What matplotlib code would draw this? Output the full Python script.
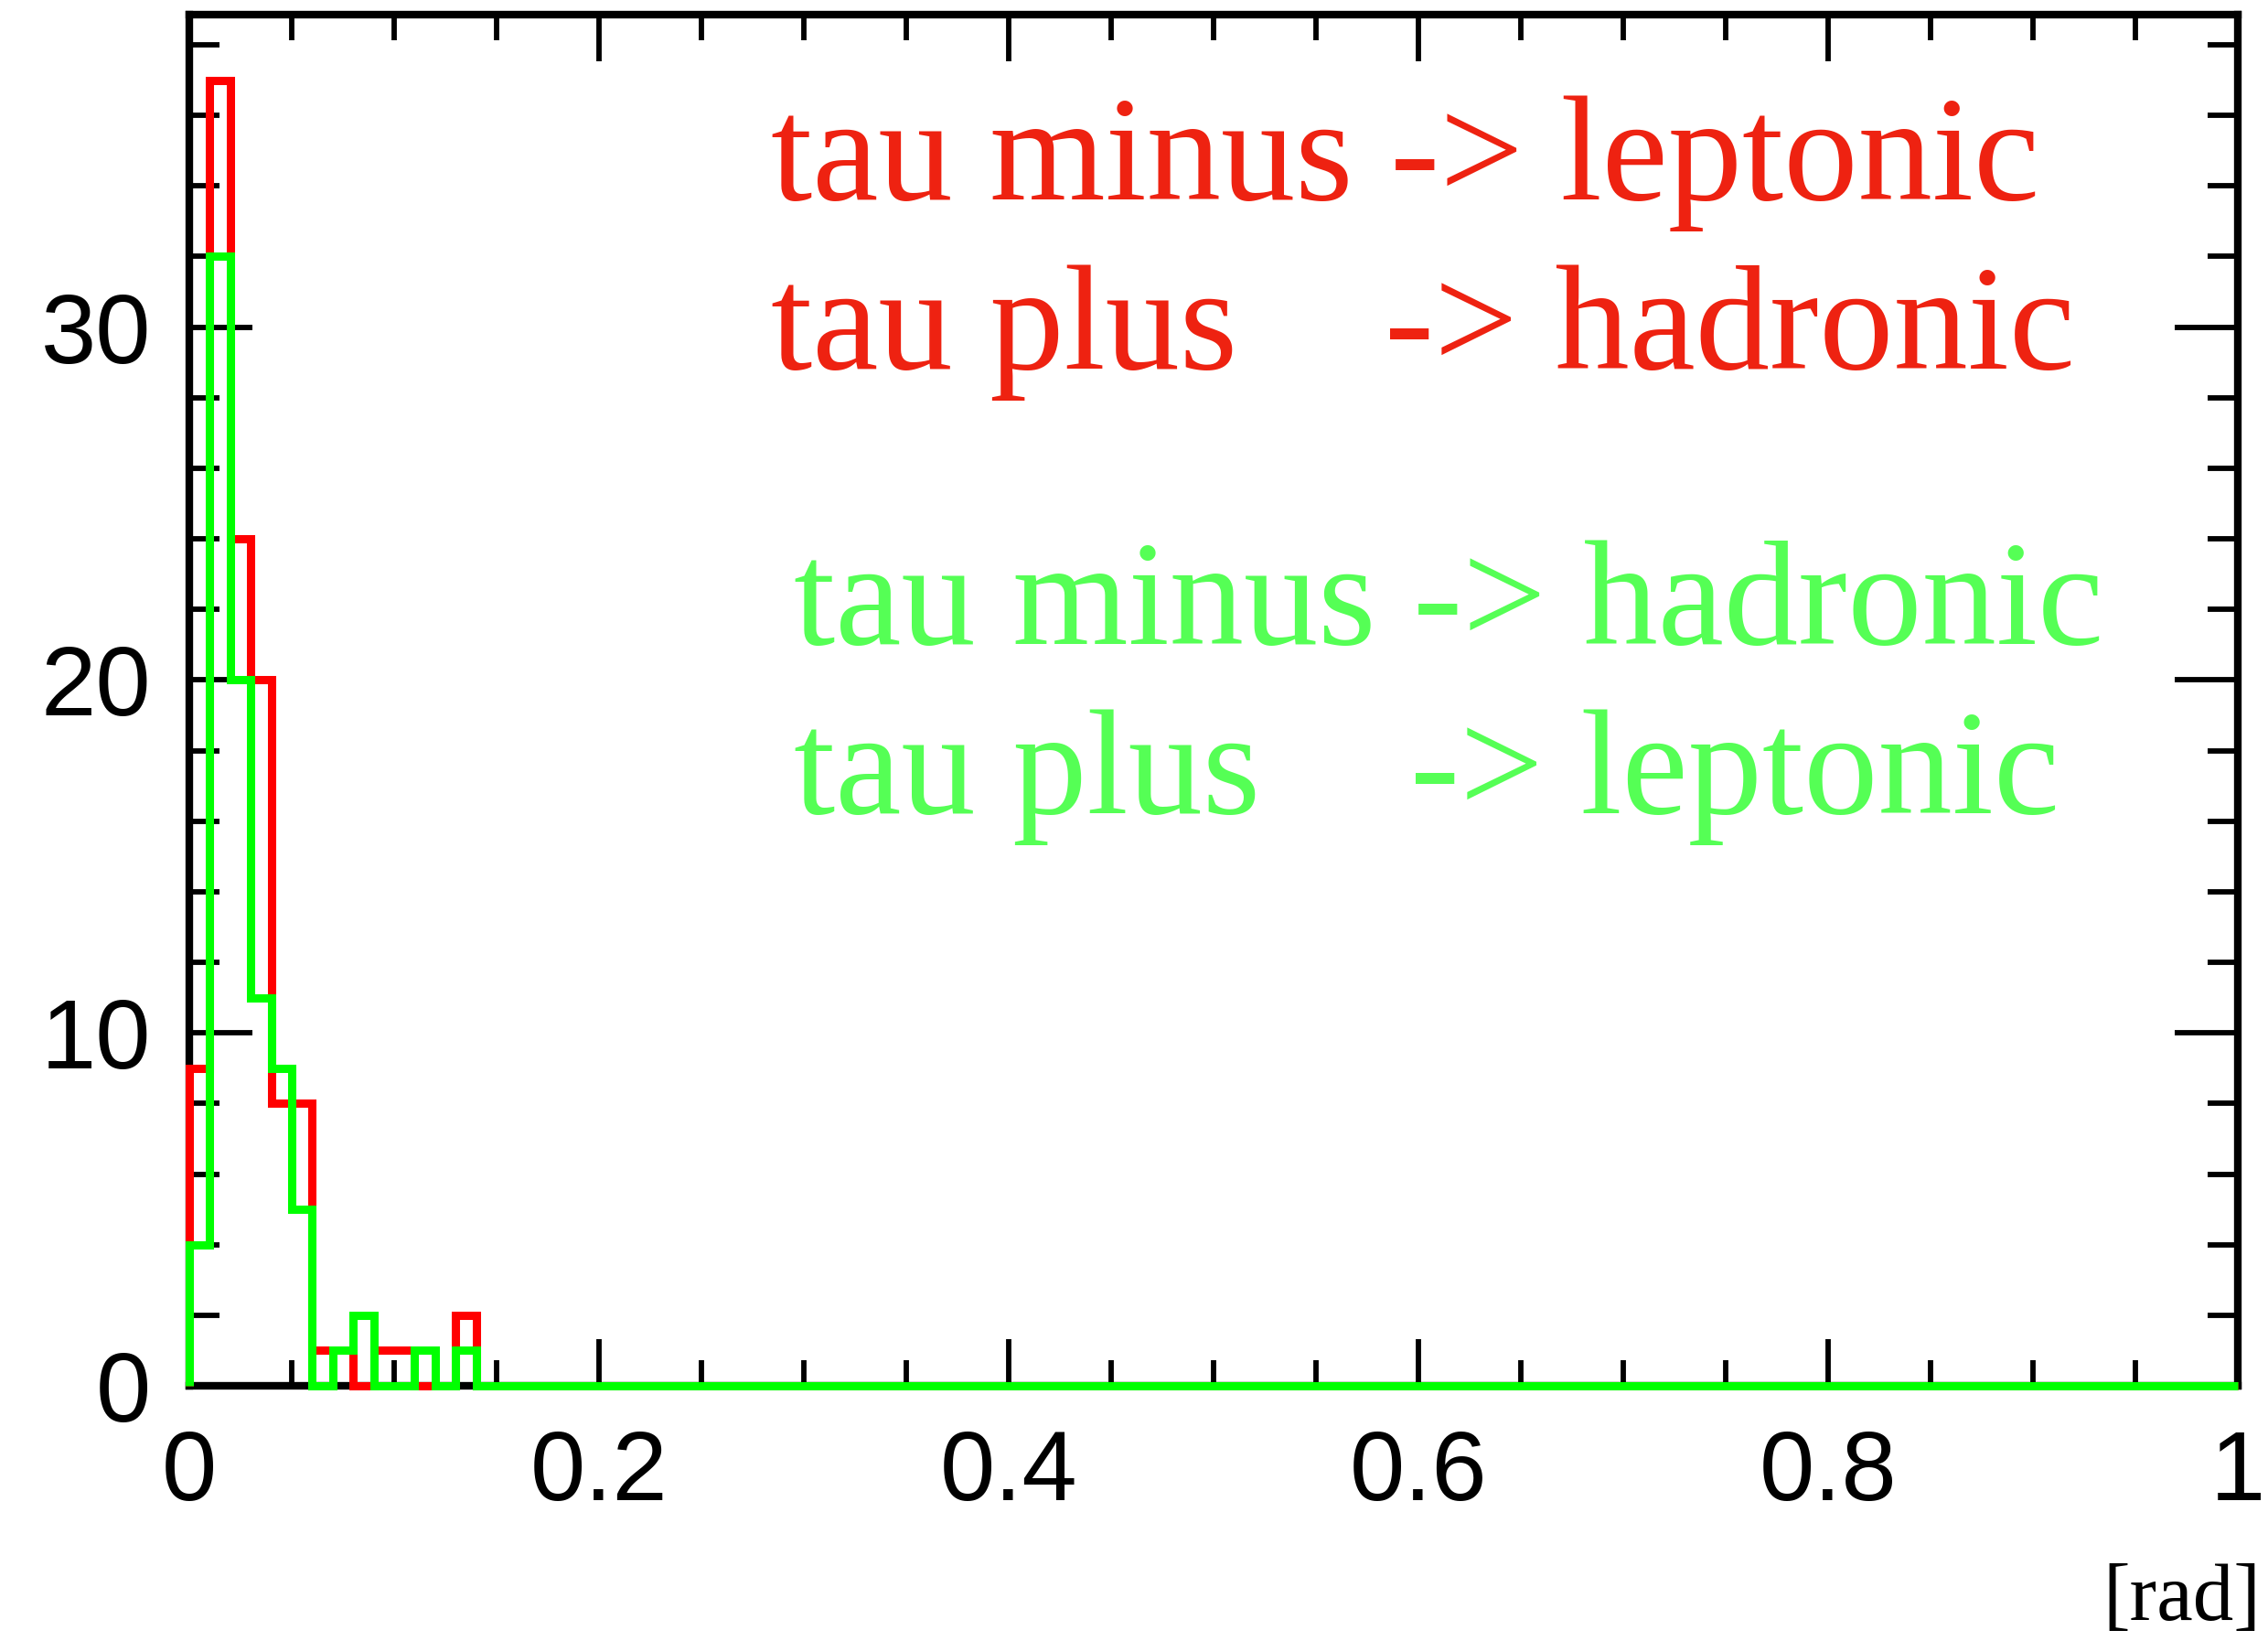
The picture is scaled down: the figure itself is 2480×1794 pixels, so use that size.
import numpy as np
import matplotlib
matplotlib.use("Agg")
import matplotlib.pyplot as plt
from matplotlib.ticker import MultipleLocator

# bin edges: 100 bins of 0.01 rad on [0, 1]
bin_edges = np.linspace(0.0, 1.0, 101)

# counts (bins beyond 0.15 rad are empty)
red_counts = [9, 37, 24, 20, 8, 8, 1, 1, 0, 1, 1, 0, 0, 2, 0] + [0] * 85
green_counts = [4, 32, 20, 11, 9, 5, 0, 1, 2, 0, 0, 1, 0, 1, 0] + [0] * 85

x_ticks = [0, 0.2, 0.4, 0.6, 0.8, 1]
x_ticklabels = ["0", "0.2", "0.4", "0.6", "0.8", "1"]
y_ticks = [0, 10, 20, 30]
y_ticklabels = ["0", "10", "20", "30"]

RED_LINE = "#ff0000"
GREEN_LINE = "#00ff00"
RED_TEXT = "#ee2211"
GREEN_TEXT = "#55ff55"

fig = plt.figure(figsize=(24.8, 17.94), dpi=100)
ax = fig.add_axes([0.0835, 0.1555, 0.9031, 0.8355])

ax.stairs(red_counts, bin_edges, color=RED_LINE, linewidth=6.5, zorder=3, clip_on=False)
ax.stairs(green_counts, bin_edges, color=GREEN_LINE, linewidth=6.5, zorder=4, clip_on=False)

ax.set_xlim(0, 1)
ax.set_ylim(0, 38.85)

ax.set_xticks(x_ticks)
ax.set_xticklabels(x_ticklabels)
ax.set_yticks(y_ticks)
ax.set_yticklabels(y_ticklabels)
ax.xaxis.set_minor_locator(MultipleLocator(0.05))
ax.yaxis.set_minor_locator(MultipleLocator(2))

for spine in ax.spines.values():
    spine.set_linewidth(6)

ax.tick_params(which="both", direction="in", top=True, right=True, width=4.2, color="black")
ax.tick_params(axis="x", which="major", length=37, pad=34, labelsize=78)
ax.tick_params(axis="x", which="minor", length=20)
ax.tick_params(axis="y", which="major", length=50, pad=30, labelsize=78)
ax.tick_params(axis="y", which="minor", length=24)
for label in ax.get_xticklabels() + ax.get_yticklabels():
    label.set_fontfamily("Liberation Sans")

serif = "Liberation Serif"
fig.text(0.3399, 0.8783, "tau minus -> leptonic", color=RED_TEXT, fontsize=117,
         family=serif, ha="left", va="baseline")
fig.text(0.3399, 0.7751, "tau plus", color=RED_TEXT, fontsize=117,
         family=serif, ha="left", va="baseline")
fig.text(0.6103, 0.7751, "-> hadronic", color=RED_TEXT, fontsize=117,
         family=serif, ha="left", va="baseline")
fig.text(0.3501, 0.6076, "tau minus -> hadronic", color=GREEN_TEXT, fontsize=117,
         family=serif, ha="left", va="baseline")
fig.text(0.3501, 0.5044, "tau plus", color=GREEN_TEXT, fontsize=117,
         family=serif, ha="left", va="baseline")
fig.text(0.6218, 0.5044, "-> leptonic", color=GREEN_TEXT, fontsize=117,
         family=serif, ha="left", va="baseline")

fig.text(0.997, 0.013, "[rad]", color="black", fontsize=64, family=serif,
         ha="right", va="baseline")

fig.savefig("out.png", dpi=100)
plt.close(fig)
